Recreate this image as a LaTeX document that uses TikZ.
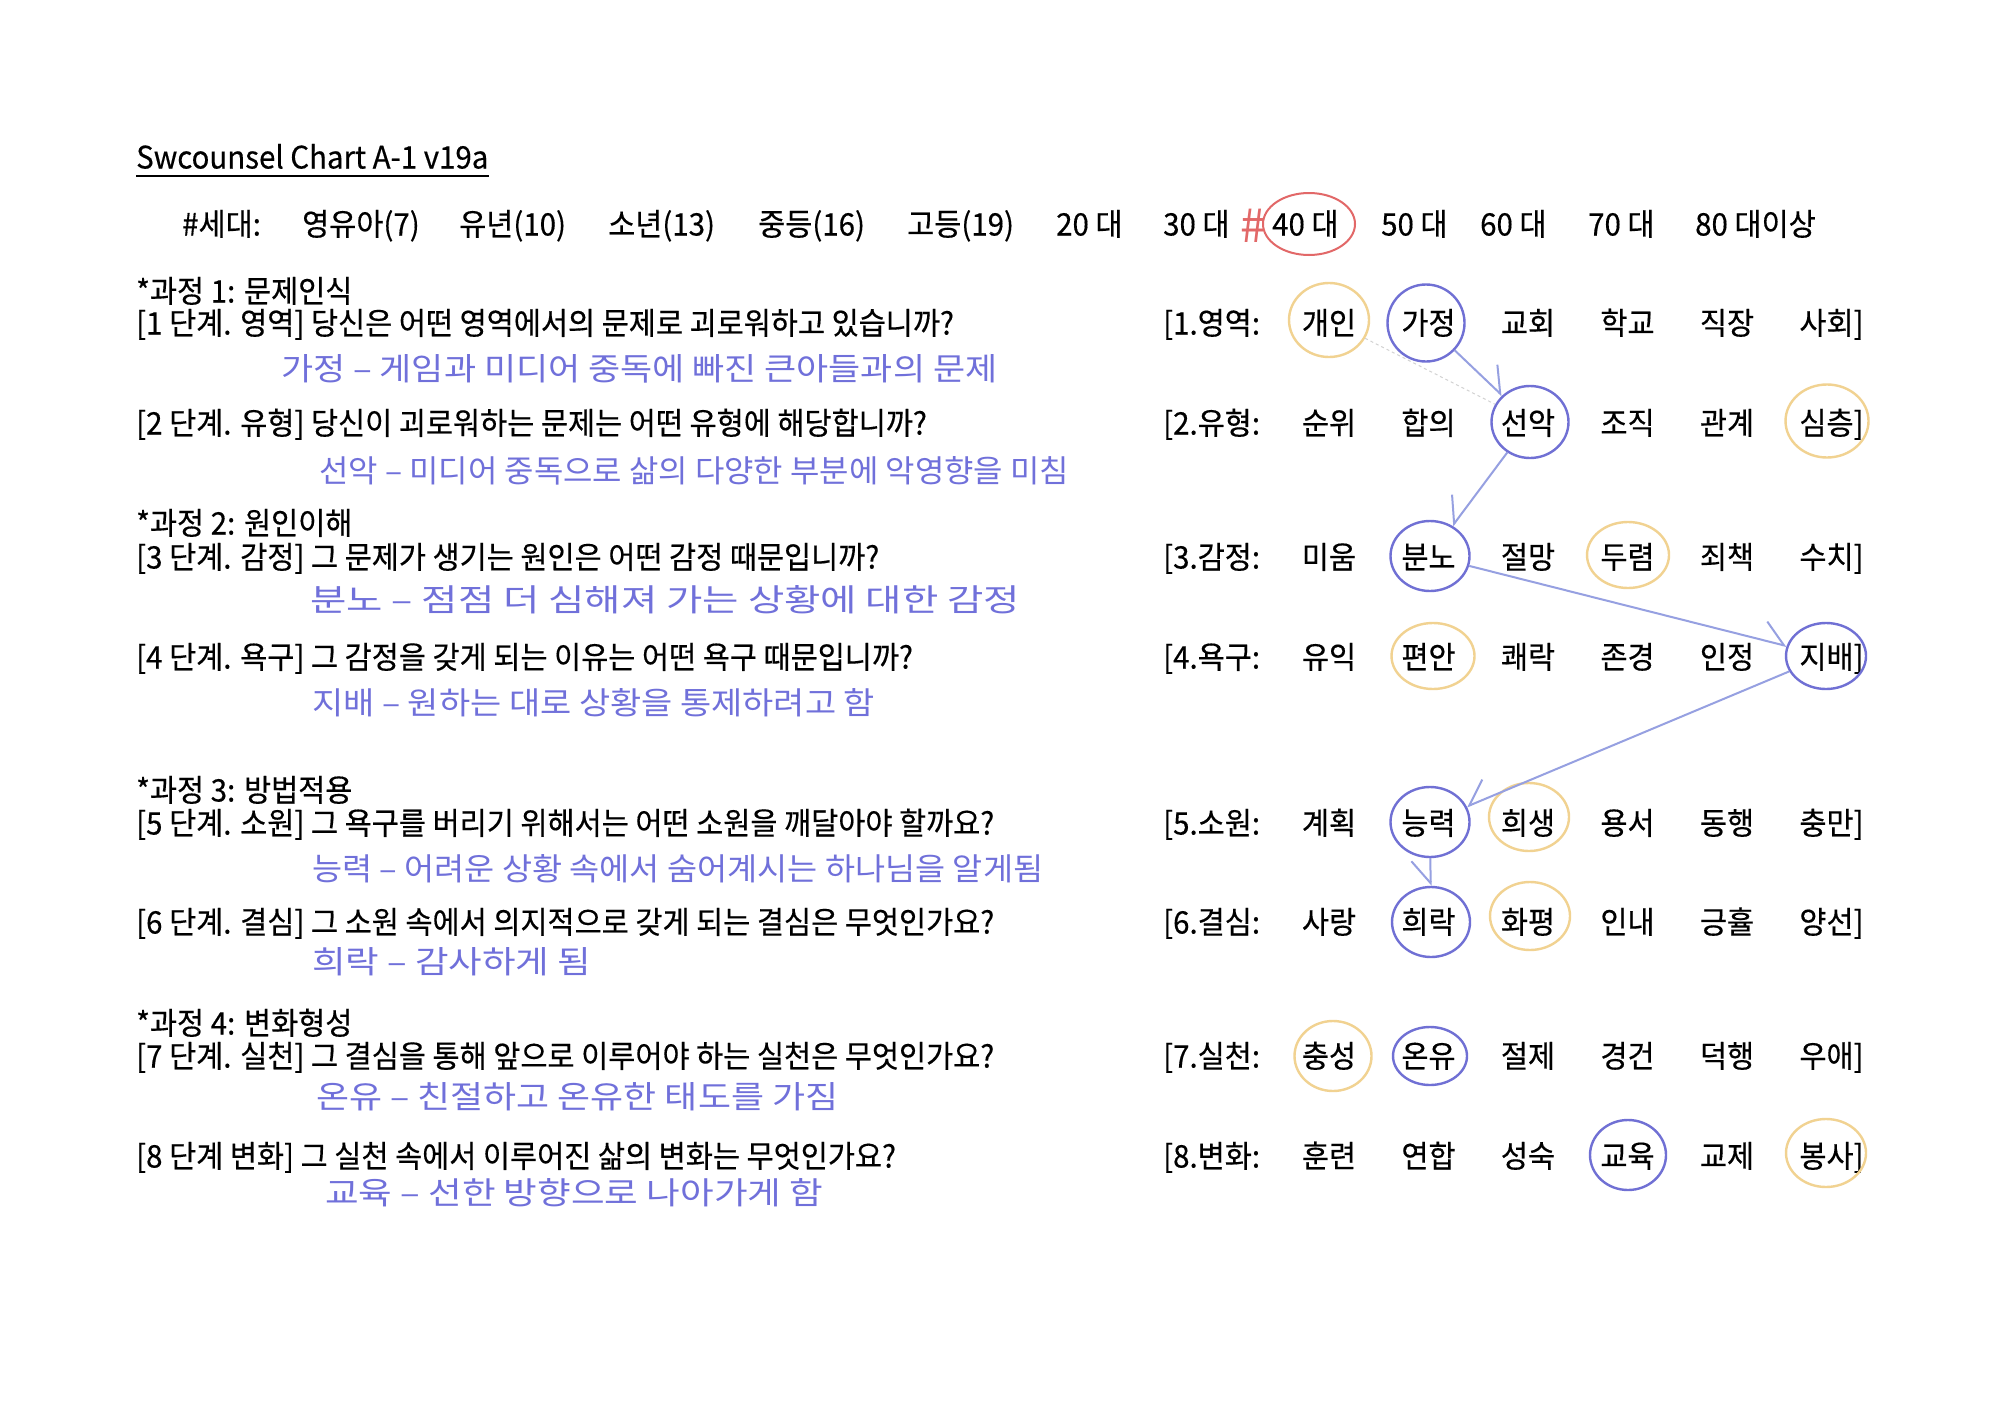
\documentclass[tikz,border=0pt]{standalone}
\usepackage{fontspec}
\setmainfont{Noto Sans CJK KR}[FakeStretch=0.95, FakeBold=0.4]
\newfontfamily\hwfont{Noto Sans CJK KR}
\usetikzlibrary{shapes.geometric,arrows.meta}
\definecolor{hwblue}{RGB}{112,112,218}
\definecolor{cblue}{RGB}{112,112,212}
\definecolor{corange}{RGB}{241,210,145}
\definecolor{cred}{RGB}{226,104,104}
\definecolor{arrc}{RGB}{150,160,225}
\tikzset{
  txt/.style={font=\fontsize{31}{36}\selectfont, inner sep=0pt, text height=27pt, text depth=4pt},
  hw/.style={text=hwblue, inner sep=0pt, anchor=west},
  bc/.style={ellipse, draw=cblue, line width=2.4pt, minimum width=79pt, minimum height=70pt, inner sep=0pt},
  oc/.style={ellipse, draw=corange, line width=2.4pt, minimum width=80pt, minimum height=70pt, inner sep=0pt},
  arrL/.style={draw=arrc, line width=2pt, -{Straight Barb[left, length=22pt, width=38pt]}},
  arrR/.style={draw=arrc, line width=2pt, -{Straight Barb[right, length=22pt, width=38pt]}},
}
\newcommand\hwtxt[2]{\resizebox{#1pt}{26pt}{\hwfont\fontsize{30}{34}\selectfont #2}}
\newcommand\gridrow[9]{%
  \node[txt, anchor=west] (#1l) at (1163,#2) {#3};
  \node[txt] (#1a) at (1329,#2) {#4};
  \node[txt] (#1b) at (1428.5,#2) {#5};
  \node[txt] (#1c) at (1528,#2) {#6};
  \node[txt] (#1d) at (1627.5,#2) {#7};
  \node[txt] (#1e) at (1727,#2) {#8};
  \node[txt] (#1f) at (1826.5,#2) {#9\rlap{]}};
}
\begin{document}
\begin{tikzpicture}[x=1pt, y=-1pt]
\path[use as bounding box, fill=white] (0,0) rectangle (2000,1413);

% title
\node[txt, anchor=west] (title) at (136,157) {Swcounsel Chart A-1 v19a};
\draw[line width=2.2pt] ([yshift=-3pt]title.south west) -- ([yshift=-3pt]title.south east);

% generations
\node[txt, anchor=west] (g0) at (182,224) {\#세대:};
\node[txt, anchor=west] (g1) at (302,224) {영유아(7)};
\node[txt, anchor=west] (g2) at (459,224) {유년(10)};
\node[txt, anchor=west] (g3) at (608,224) {소년(13)};
\node[txt, anchor=west] (g4) at (758,224) {중등(16)};
\node[txt, anchor=west] (g5) at (907,224) {고등(19)};
\node[txt, anchor=west] (g6) at (1056,224) {20 대};
\node[txt, anchor=west] (g7) at (1163,224) {30 대};
\node[txt, anchor=west] (g8) at (1272,224) {40 대};
\node[txt, anchor=west] (g9) at (1381,224) {50 대};
\node[txt, anchor=west] (g10) at (1480,224) {60 대};
\node[txt, anchor=west] (g11) at (1588,224) {70 대};
\node[txt, anchor=west] (g12) at (1695,224) {80 대이상};
\node[ellipse, draw=cred, line width=2pt, minimum width=92pt, minimum height=62pt, inner sep=0pt] (k40) at (1309,224) {};
\node[text=cred, inner sep=0pt, font=\hwfont\fontsize{46}{50}\selectfont] (hash) at (1253,226) {\#};

% left column
\node[txt, anchor=west] (h1) at (136,291) {*과정 1: 문제인식};
\node[txt, anchor=west] (q1) at (136,323) {[1 단계. 영역] 당신은 어떤 영역에서의 문제로 괴로워하고 있습니까?};
\node[hw] (w1) at (281,369) {\hwtxt{716}{가정 – 게임과 미디어 중독에 빠진 큰아들과의 문제}};
\node[txt, anchor=west] (q2) at (136,423) {[2 단계. 유형] 당신이 괴로워하는 문제는 어떤 유형에 해당합니까?};
\node[hw] (w2) at (319,471) {\hwtxt{750}{선악 – 미디어 중독으로 삶의 다양한 부분에 악영향을 미침}};
\node[txt, anchor=west] (h2) at (136,523) {*과정 2: 원인이해};
\node[txt, anchor=west] (q3) at (136,557) {[3 단계. 감정] 그 문제가 생기는 원인은 어떤 감정 때문입니까?};
\node[hw] (w3) at (310,600) {\hwtxt{710}{분노 – 점점 더 심해져 가는 상황에 대한 감정}};
\node[txt, anchor=west] (q4) at (136,657) {[4 단계. 욕구] 그 감정을 갖게 되는 이유는 어떤 욕구 때문입니까?};
\node[hw] (w4) at (312,703) {\hwtxt{563}{지배 – 원하는 대로 상황을 통제하려고 함}};
\node[txt, anchor=west] (h3) at (136,790) {*과정 3: 방법적용};
\node[txt, anchor=west] (q5) at (136,823) {[5 단계. 소원] 그 욕구를 버리기 위해서는 어떤 소원을 깨달아야 할까요?};
\node[hw] (w5) at (312,869) {\hwtxt{731}{능력 – 어려운 상황 속에서 숨어계시는 하나님을 알게됨}};
\node[txt, anchor=west] (q6) at (136,922) {[6 단계. 결심] 그 소원 속에서 의지적으로 갖게 되는 결심은 무엇인가요?};
\node[hw] (w6) at (312,962) {\hwtxt{279}{희락 – 감사하게 됨}};
\node[txt, anchor=west] (h4) at (136,1023) {*과정 4: 변화형성};
\node[txt, anchor=west] (q7) at (136,1056) {[7 단계. 실천] 그 결심을 통해 앞으로 이루어야 하는 실천은 무엇인가요?};
\node[hw] (w7) at (316,1097) {\hwtxt{522}{온유 – 친절하고 온유한 태도를 가짐}};
\node[txt, anchor=west] (q8) at (136,1156) {[8 단계 변화] 그 실천 속에서 이루어진 삶의 변화는 무엇인가요?};
\node[hw] (w8) at (325,1193) {\hwtxt{498}{교육 – 선한 방향으로 나아가게 함}};

% right grid
\gridrow{r1}{323}{[1.영역:}{개인}{가정}{교회}{학교}{직장}{사회}
\gridrow{r2}{423}{[2.유형:}{순위}{합의}{선악}{조직}{관계}{심층}
\gridrow{r3}{557}{[3.감정:}{미움}{분노}{절망}{두렴}{죄책}{수치}
\gridrow{r4}{657}{[4.욕구:}{유익}{편안}{쾌락}{존경}{인정}{지배}
\gridrow{r5}{823}{[5.소원:}{계획}{능력}{희생}{용서}{동행}{충만}
\gridrow{r6}{922}{[6.결심:}{사랑}{희락}{화평}{인내}{긍휼}{양선}
\gridrow{r7}{1056}{[7.실천:}{충성}{온유}{절제}{경건}{덕행}{우애}
\gridrow{r8}{1156}{[8.변화:}{훈련}{연합}{성숙}{교육}{교제}{봉사}

% circles
\node[oc, minimum width=80pt, minimum height=74pt] (k1a) at (1329,320) {};
\node[bc, minimum width=77pt, minimum height=77pt] (k1b) at (1426,323) {};
\node[bc, minimum width=77pt, minimum height=72pt] (k2c) at (1530,422) {};
\node[oc, minimum width=83pt, minimum height=73pt] (k2f) at (1827,421) {};
\node[bc, minimum width=79pt, minimum height=70pt] (k3b) at (1430,556) {};
\node[oc, minimum width=82pt, minimum height=66pt] (k3d) at (1628,555) {};
\node[oc, minimum width=83pt, minimum height=66pt] (k4b) at (1433,656) {};
\node[bc, minimum width=80pt, minimum height=66pt] (k4f) at (1826,656) {};
\node[bc, minimum width=79pt, minimum height=70pt] (k5b) at (1430,822) {};
\node[oc, minimum width=80pt, minimum height=68pt] (k5c) at (1529,817) {};
\node[bc, minimum width=78pt, minimum height=70pt] (k6b) at (1431,922) {};
\node[oc, minimum width=80pt, minimum height=68pt] (k6c) at (1530,916) {};
\node[oc, minimum width=77pt, minimum height=70pt] (k7a) at (1333,1056) {};
\node[bc, minimum width=74pt, minimum height=58pt] (k7b) at (1430,1056) {};
\node[bc, minimum width=76pt, minimum height=70pt] (k8d) at (1628,1155) {};
\node[oc, minimum width=80pt, minimum height=68pt] (k8f) at (1826,1153) {};

% connectors
\draw[gray!35, line width=1pt, dashed] (k1a) -- (k2c);
\draw[arrL] (k1b) -- (k2c);
\draw[arrR] (k2c) -- (k3b);
\draw[arrL] (k3b) -- (k4f);
\draw[arrR] (k4f) -- (k5b);
\draw[arrR] (k5b) -- (k6b);
\end{tikzpicture}
\end{document}
